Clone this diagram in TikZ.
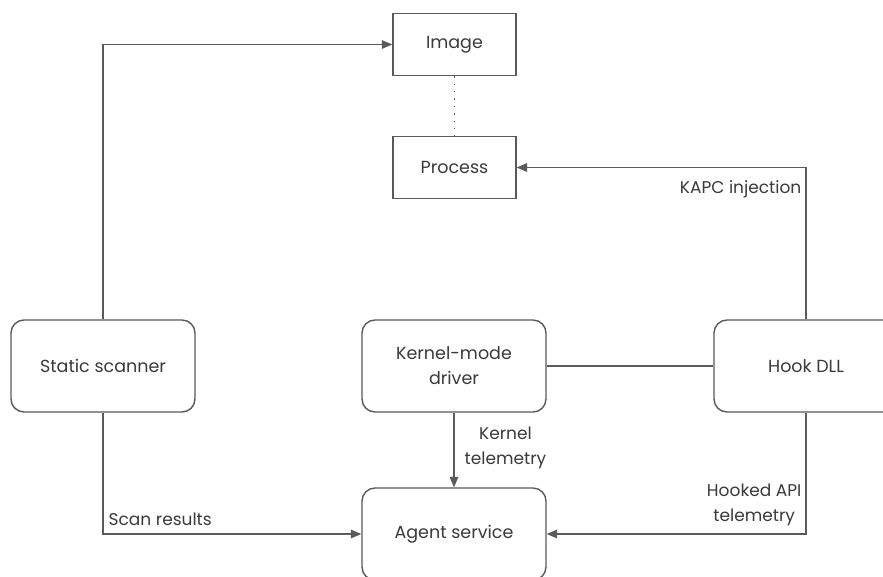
\documentclass[tikz,border=0pt]{standalone}
\usepackage{fontspec}
\setmainfont{Poppins}
\usepackage{tikz}
\usetikzlibrary{positioning, arrows}

\definecolor{linegray}{HTML}{5A5A5A}
\definecolor{textgray}{HTML}{3A3A3A}

\tikzset{
    plainbox/.style={draw=linegray, line width=1.4pt, rectangle, minimum width=123pt, minimum height=62pt, text=textgray},
    roundbox/.style={draw=linegray, line width=1.4pt, rectangle, rounded corners=13pt, minimum width=184pt, minimum height=92pt, text=textgray, align=center},
    lbl/.style={text=textgray, align=center, inner sep=2pt, font=\fontsize{17}{25}\selectfont}
}

\begin{document}
\begin{tikzpicture}[x=1pt, y=-1pt, ->, >=triangle 45, line width=1.4pt, draw=linegray, font=\fontsize{17.5}{25}\selectfont]
    \clip (0,0) rectangle (883,576);
    \fill[white] (0,0) rectangle (883,576);
    % boxes
    \node[plainbox] (img) at (454.5,44.5) {Image};
    \node[plainbox] (proc) at (454.5,167.5) {Process};
    \node[roundbox] (scanner) at (103,366) {Static scanner};
    \node[roundbox] (kmd) at (454,366) {Kernel-mode\\driver};
    \node[roundbox] (hook) at (806,366) {Hook DLL};
    \node[roundbox] (agent) at (454,534) {Agent service};
    % connectors
    \draw (scanner.north) |- (img.west);
    \draw[-, line width=1.6pt, dash pattern=on 1.4pt off 6pt] (img) -- (proc);
    \draw (hook.north) |- node[lbl, pos=0.5, below left, yshift=-10pt, xshift=-2pt] {KAPC injection} (proc.east);
    \draw[-] (kmd) -- (hook);
    \draw (kmd) -- node[lbl, right, xshift=8pt, yshift=2pt] {Kernel\\telemetry} (agent);
    \draw (scanner.south) |- node[lbl, pos=0.5, above right, xshift=3pt, yshift=6pt] {Scan results} (agent.west);
    \draw (hook.south) |- node[lbl, pos=0.5, above left, yshift=5pt, xshift=-2pt] {Hooked API\\telemetry} (agent.east);
\end{tikzpicture}
\end{document}
